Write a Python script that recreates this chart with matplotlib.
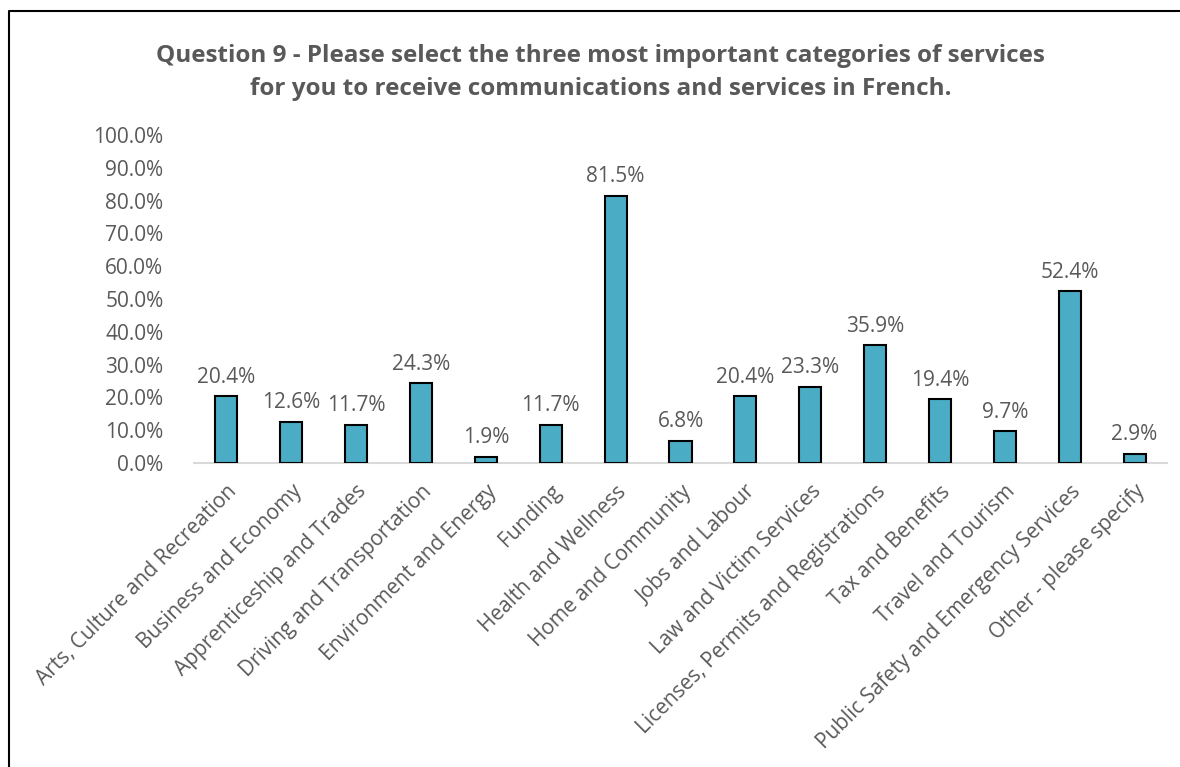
import matplotlib.pyplot as plt
from matplotlib.lines import Line2D
import numpy as np

plt.rcParams['font.family'] = ['Open Sans', 'DejaVu Sans']

categories = ['Arts, Culture and Recreation', 'Business and Economy',
              'Apprenticeship and Trades', 'Driving and Transportation',
              'Environment and Energy', 'Funding', 'Health and Wellness',
              'Home and Community', 'Jobs and Labour', 'Law and Victim Services',
              'Licenses, Permits and Registrations', 'Tax and Benefits',
              'Travel and Tourism', 'Public Safety and Emergency Services',
              'Other - please specify']
percent = [20.4, 12.6, 11.7, 24.3, 1.9, 11.7, 81.5, 6.8, 20.4, 23.3,
           35.9, 19.4, 9.7, 52.4, 2.9]
yticks = np.arange(0, 101, 10)

grey = '#595959'
bar_color = '#4BACC6'

fig = plt.figure(figsize=(11.8, 7.67), dpi=100)
ax = fig.add_axes([0.1644, 0.3963, 0.8246, 0.4277])

x = np.arange(len(categories))
ax.bar(x, percent, width=0.34, color=bar_color, edgecolor='black', linewidth=1.5, zorder=3)

for xi, v in zip(x, percent):
    ax.text(xi, v + 2.6, '%.1f%%' % v, ha='center', va='bottom', fontsize=15, color=grey)

ax.set_xlim(-0.5, len(categories) - 0.5)
ax.set_ylim(0, 100)
ax.set_yticks(yticks)
ax.set_yticklabels(['%.1f%%' % t for t in yticks], fontsize=15, color=grey)
ax.set_xticks(x)
ax.set_xticklabels(categories, rotation=45, ha='right', va='top', rotation_mode='anchor',
                   fontsize=15, color=grey)
ax.tick_params(axis='both', length=0)
ax.tick_params(axis='y', pad=22)
ax.tick_params(axis='x', pad=13)
for side in ['left', 'right', 'top']:
    ax.spines[side].set_visible(False)
ax.spines['bottom'].set_color('#D9D9D9')
ax.spines['bottom'].set_linewidth(1.5)

fig.text(0.509, 0.905, 'Question 9 - Please select the three most important categories of services\n'
         'for you to receive communications and services in French.',
         ha='center', va='center', fontsize=17.5, fontweight='bold', color=grey, linespacing=1.5)

# frame around the chart (left and top edges)
fig.add_artist(Line2D([0.0076, 0.0076, 1.0], [0.0, 0.9857, 0.9857], color='black',
                      linewidth=1.5, transform=fig.transFigure))

fig.savefig('out.png', dpi=100)
